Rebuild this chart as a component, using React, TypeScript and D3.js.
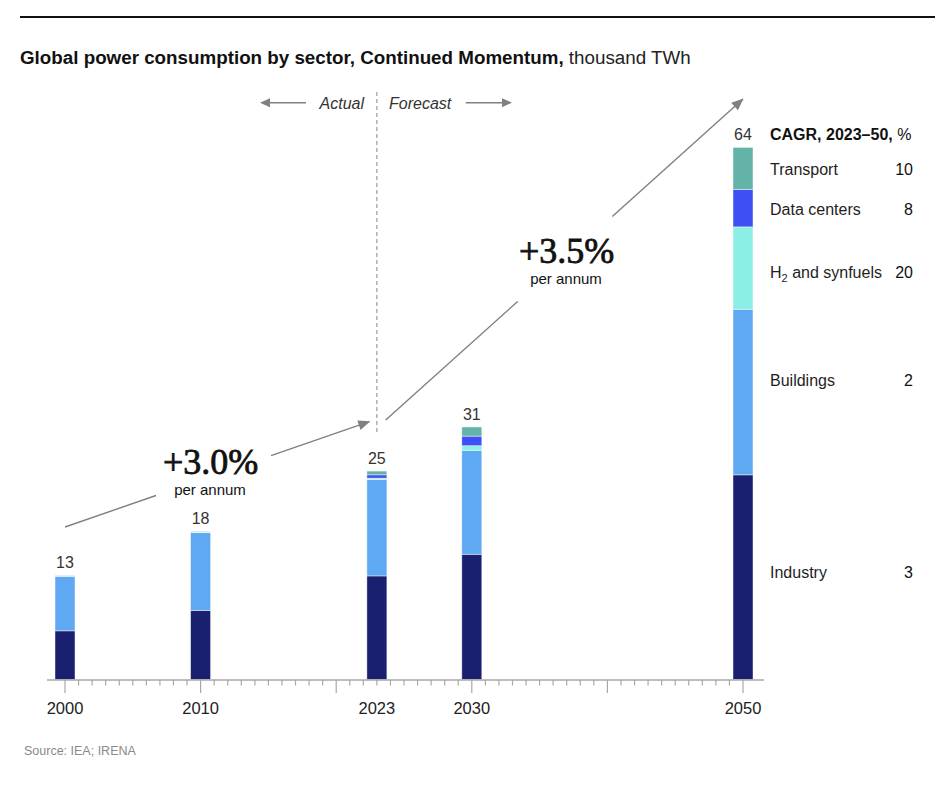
import React from "react";
import * as d3 from "d3";

const years = [2000, 2010, 2023, 2030, 2050];
const industry = [5.85, 8.3, 12.45, 15.05, 24.6];
const buildings = [6.55, 9.35, 11.6, 12.5, 19.9];
const h2 = [0.05, 0.1, 0.15, 0.55, 9.9];
const dataCenters = [0, 0, 0.4, 1.15, 4.5];
const transport = [0.05, 0.05, 0.45, 1.1, 5.05];
const totalLabels = ["13", "18", "25", "31", "64"];

const sectorKeys = ["industry", "buildings", "h2", "dataCenters", "transport"];
const sectorColors = ["#18206f", "#5fa8f2", "#8cefe5", "#3e4ff4", "#63b3a8"];
const legendNames = ["Industry", "Buildings", "H2 and synfuels", "Data centers", "Transport"];
const cagrValues = ["3", "2", "20", "8", "10"];

const W = 945;
const H = 808;

export default function App() {
  const x = d3.scaleLinear().domain([2000, 2050]).range([65, 743]);
  const y = d3.scaleLinear().domain([0, 64]).range([679.5, 147]);
  const barW = 20;

  const rows = years.map((yr, i) => ({
    year: yr,
    industry: industry[i],
    buildings: buildings[i],
    h2: h2[i],
    dataCenters: dataCenters[i],
    transport: transport[i],
  }));
  const stack = d3.stack<any>().keys(sectorKeys)(rows);

  const allYears = d3.range(2000, 2051);
  const majorYears = [2000, 2010, 2020, 2030, 2040, 2050];

  const sans = "'Liberation Sans', Arial, sans-serif";
  const serif = "'Liberation Serif', 'Times New Roman', serif";
  const textColor = "#1e1e1e";
  const annoColor = "#808080";

  const arrowHead = (x0: number, y0: number, x1: number, y1: number, len = 11, hw = 5) => {
    const dx = x1 - x0, dy = y1 - y0;
    const L = Math.hypot(dx, dy);
    const ux = dx / L, uy = dy / L;
    const bx = x1 - ux * len, by = y1 - uy * len;
    const px = -uy, py = ux;
    return `M${x1},${y1}L${bx + px * hw},${by + py * hw}L${bx - px * hw},${by - py * hw}Z`;
  };

  const brokenLine = (x0: number, y0: number, x1: number, y1: number, gx0: number, gx1: number) => {
    const yAt = (xx: number) => y0 + ((xx - x0) / (x1 - x0)) * (y1 - y0);
    return `M${x0},${y0}L${gx0},${yAt(gx0)}M${gx1},${yAt(gx1)}L${x1},${y1}`;
  };

  const a1 = { x0: x(2000), y0: 527, x1: x(2023) - 7.6, y1: 421.7, g0: 156, g1: 271 };
  const a2 = { x0: x(2023) + 8.8, y0: 420, x1: x(2050), y1: 99, g0: 517.7, g1: 612.3 };

  const legendY = [577.7, 386, 277.7, 215, 175];
  const dividerX = x(2023);

  return (
    <svg width={W} height={H} style={{ position: "absolute", left: 0, top: 0, background: "#fff" }}>
      <line x1={20} x2={935} y1={17} y2={17} stroke="#111" strokeWidth={2} />

      <text x={20} y={64.3} fontFamily={sans} fontSize={18.8} fill="#111">
        <tspan fontWeight="bold">Global power consumption by sector, Continued Momentum,</tspan>
        <tspan fill="#222"> thousand TWh</tspan>
      </text>

      <line x1={dividerX} x2={dividerX} y1={92} y2={435} stroke="#9a9a9a" strokeWidth={1.2} strokeDasharray="4,3" />
      <text x={364} y={109} textAnchor="end" fontFamily={sans} fontStyle="italic" fontSize={16} fill="#333">Actual</text>
      <text x={389} y={109} fontFamily={sans} fontStyle="italic" fontSize={16} fill="#333">Forecast</text>
      <line x1={306} x2={266} y1={102.7} y2={102.7} stroke={annoColor} strokeWidth={1.4} />
      <path d={arrowHead(306, 102.7, 260, 102.7, 10, 4.5)} fill={annoColor} />
      <line x1={465.7} x2={506} y1={102.7} y2={102.7} stroke={annoColor} strokeWidth={1.4} />
      <path d={arrowHead(465.7, 102.7, 512, 102.7, 10, 4.5)} fill={annoColor} />

      {stack.map((layer, li) => (
        <g key={layer.key} fill={sectorColors[li]}>
          {layer.map((d, i) => {
            const h = y(d[0]) - y(d[1]);
            if (h <= 0) return null;
            return (
              <rect
                key={i}
                x={x(years[i]) - barW / 2}
                y={y(d[1])}
                width={barW}
                height={h}
                stroke="rgba(255,255,255,0.55)"
                strokeWidth={0.8}
              />
            );
          })}
        </g>
      ))}

      {years.map((yr, i) => {
        const top = stack[stack.length - 1][i][1];
        return (
          <text key={yr} x={x(yr)} y={y(top) - 7} textAnchor="middle" fontFamily={sans} fontSize={16} fill="#333">
            {totalLabels[i]}
          </text>
        );
      })}

      <line x1={47} x2={764} y1={680} y2={680} stroke="#a8a8a8" strokeWidth={1.5} />
      {allYears.map((yr) => {
        const major = majorYears.includes(yr);
        return (
          <line key={yr} x1={x(yr)} x2={x(yr)} y1={680} y2={major ? 693 : 685.5} stroke="#a8a8a8" strokeWidth={1.2} />
        );
      })}
      {years.map((yr) => (
        <text key={yr} x={x(yr)} y={713.5} textAnchor="middle" fontFamily={sans} fontSize={16.5} fill="#222">
          {yr}
        </text>
      ))}

      <path d={brokenLine(a1.x0, a1.y0, a1.x1, a1.y1, a1.g0, a1.g1)} stroke={annoColor} strokeWidth={1.4} fill="none" />
      <path d={arrowHead(a1.x0, a1.y0, a1.x1 + 1, a1.y1 - 0.35, 12, 5)} fill={annoColor} />
      <text x={210.7} y={474} textAnchor="middle" fontFamily={serif} fontSize={36} fill="#111" stroke="#111" strokeWidth={0.8}>+3.0%</text>
      <text x={210} y={495} textAnchor="middle" fontFamily={sans} fontSize={15} fill="#111">per annum</text>

      <path d={brokenLine(a2.x0, a2.y0, a2.x1, a2.y1, a2.g0, a2.g1)} stroke={annoColor} strokeWidth={1.4} fill="none" />
      <path d={arrowHead(a2.x0, a2.y0, a2.x1 + 0.5, a2.y1 - 0.45, 12, 5)} fill={annoColor} />
      <text x={566.7} y={263} textAnchor="middle" fontFamily={serif} fontSize={36} fill="#111" stroke="#111" strokeWidth={0.8}>+3.5%</text>
      <text x={566} y={284} textAnchor="middle" fontFamily={sans} fontSize={15} fill="#111">per annum</text>

      <text x={770} y={140} fontFamily={sans} fontSize={16} fill="#111">
        <tspan fontWeight="bold">CAGR, 2023–50,</tspan>
        <tspan> %</tspan>
      </text>
      {legendNames.map((name, i) => (
        <g key={name}>
          <text x={770} y={legendY[i]} fontFamily={sans} fontSize={16} fill={textColor}>
            {name.startsWith("H2") ? (
              <>
                <tspan>H</tspan>
                <tspan fontSize={11} dy={4}>2</tspan>
                <tspan dy={-4}> and synfuels</tspan>
              </>
            ) : (
              name
            )}
          </text>
          <text x={913} y={legendY[i]} textAnchor="end" fontFamily={sans} fontSize={16} fill="#111">
            {cagrValues[i]}
          </text>
        </g>
      ))}

      <text x={24} y={755} fontFamily={sans} fontSize={12.5} fill="#8a8a8a">Source: IEA; IRENA</text>
    </svg>
  );
}
